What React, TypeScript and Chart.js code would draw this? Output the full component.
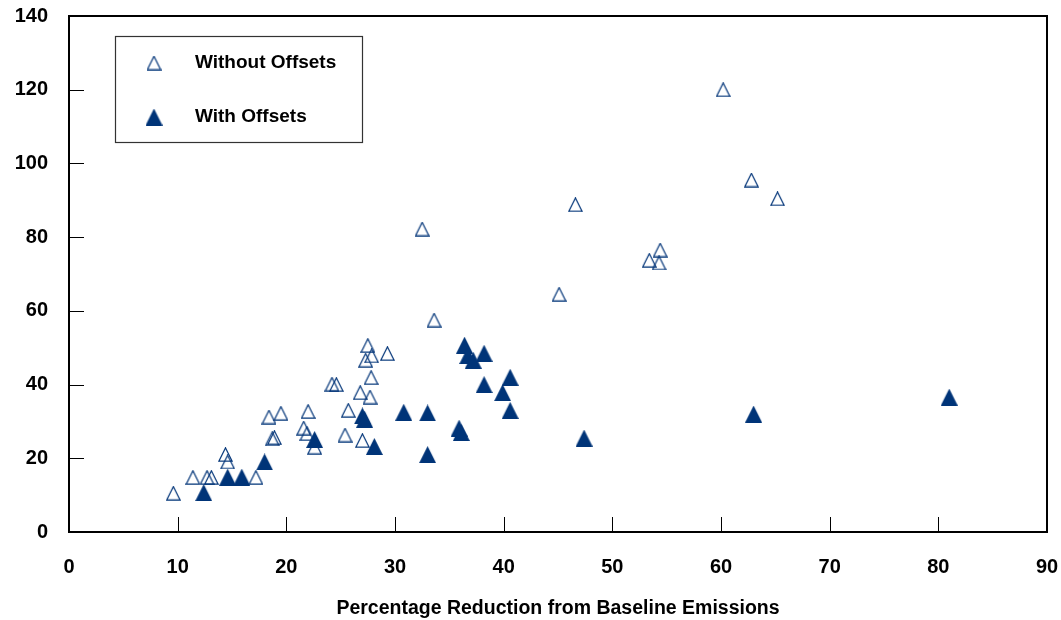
import React, { useEffect, useRef } from 'react';
import { Chart, registerables } from 'chart.js';

Chart.register(...registerables);

const withoutX = [9.6, 11.4, 12.7, 13.1, 14.4, 14.6, 17.2, 18.4, 18.7, 18.9, 19.5, 21.6, 21.9, 22.0, 22.6, 24.2, 24.6, 25.4, 25.7, 26.8, 27.0, 27.3, 27.5, 27.7, 27.8, 27.85, 29.3, 32.5, 33.6, 45.1, 46.6, 53.4, 54.3, 54.4, 60.2, 62.8, 65.2];
const withoutY = [10.5, 14.8, 14.8, 14.8, 21.0, 19.0, 14.8, 31.2, 25.3, 25.6, 32.2, 28.2, 26.7, 32.7, 23.0, 40.1, 40.0, 26.3, 33.0, 37.8, 24.8, 46.6, 50.6, 36.6, 41.9, 47.8, 48.4, 82.2, 57.5, 64.5, 88.8, 73.7, 73.0, 76.5, 120.0, 95.5, 90.4];

const withX = [12.4, 14.6, 15.9, 18.0, 22.6, 27.0, 27.2, 28.1, 30.8, 33.0, 33.0, 35.9, 36.1, 36.4, 36.7, 37.2, 38.2, 38.2, 39.9, 40.6, 40.6, 47.4, 63.0, 81.0];
const withY = [10.7, 14.9, 14.9, 19.0, 25.1, 31.5, 30.6, 23.2, 32.5, 32.3, 21.0, 28.2, 27.0, 50.7, 47.9, 46.6, 48.5, 40.0, 37.8, 42.0, 33.0, 25.5, 32.0, 36.6];

const xTickValues = [0, 10, 20, 30, 40, 50, 60, 70, 80, 90];
const yTickValues = [0, 20, 40, 60, 80, 100, 120, 140];
const legendLabels = ['Without Offsets', 'With Offsets'];
const xAxisTitle = 'Percentage Reduction from Baseline Emissions';

const NAVY = '#003478';
const FONT = '"Liberation Sans", Arial, sans-serif';

function makeHollow(): HTMLCanvasElement {
  const c = document.createElement('canvas');
  c.width = 15; c.height = 15;
  const ctx = c.getContext('2d')!;
  ctx.strokeStyle = NAVY;
  ctx.lineWidth = 1.2;
  ctx.beginPath();
  ctx.moveTo(7.5, 0.8);
  ctx.lineTo(0.8, 14.2);
  ctx.lineTo(14.2, 14.2);
  ctx.closePath();
  ctx.stroke();
  return c;
}

function makeFilled(): HTMLCanvasElement {
  const c = document.createElement('canvas');
  c.width = 17; c.height = 17;
  const ctx = c.getContext('2d')!;
  ctx.fillStyle = NAVY;
  ctx.beginPath();
  ctx.moveTo(8.5, 0);
  ctx.lineTo(0, 17);
  ctx.lineTo(17, 17);
  ctx.closePath();
  ctx.fill();
  return c;
}

export default function App() {
  const ref = useRef<HTMLCanvasElement | null>(null);
  useEffect(() => {
    if (!ref.current) return;
    const hollow = makeHollow();
    const filled = makeFilled();

    const framePlugin = {
      id: 'frame',
      afterDraw(chart: any) {
        const { ctx, chartArea } = chart;
        const xs = chart.scales.x;
        const ys = chart.scales.y;
        ctx.save();
        ctx.strokeStyle = '#000';
        ctx.lineWidth = 1;
        ctx.beginPath();
        xTickValues.forEach((v) => {
          if (v === 0 || v === 90) return;
          const px = Math.round(xs.getPixelForValue(v)) + 0.5;
          ctx.moveTo(px, chartArea.bottom);
          ctx.lineTo(px, chartArea.bottom - 15);
        });
        yTickValues.forEach((v) => {
          if (v === 0 || v === 140) return;
          const py = Math.round(ys.getPixelForValue(v)) + 0.5;
          ctx.moveTo(chartArea.left, py);
          ctx.lineTo(chartArea.left + 15, py);
        });
        ctx.stroke();
        ctx.lineWidth = 2;
        ctx.strokeRect(chartArea.left, chartArea.top, chartArea.right - chartArea.left, chartArea.bottom - chartArea.top);
        // legend
        const lx = chartArea.left + 46;
        const ly = chartArea.top + 20;
        ctx.lineWidth = 1.2;
        ctx.strokeStyle = '#333';
        ctx.strokeRect(lx + 0.5, ly + 0.5, 247, 106);
        ctx.drawImage(hollow, lx + 39 - 7.5, ly + 27 - 7.5);
        ctx.drawImage(filled, lx + 39 - 8.5, ly + 81 - 8.5);
        ctx.fillStyle = '#000';
        ctx.font = `bold 19px ${FONT}`;
        ctx.textBaseline = 'middle';
        ctx.textAlign = 'left';
        ctx.fillText(legendLabels[0], lx + 80, ly + 27);
        ctx.fillText(legendLabels[1], lx + 80, ly + 81);
        ctx.restore();
      },
    };

    const chart = new Chart(ref.current, {
      type: 'scatter',
      data: {
        datasets: [
          {
            label: legendLabels[1],
            data: withX.map((x, i) => ({ x, y: withY[i] })),
            pointStyle: filled as any,
            order: 0,
          },
          {
            label: legendLabels[0],
            data: withoutX.map((x, i) => ({ x, y: withoutY[i] })),
            pointStyle: hollow as any,
            order: 1,
          },
        ],
      },
      options: {
        animation: false,
        responsive: true,
        maintainAspectRatio: false,
        layout: { padding: { top: 16, right: 14, left: 0, bottom: 0 } },
        plugins: { legend: { display: false }, tooltip: { enabled: false } },
        scales: {
          x: {
            type: 'linear',
            min: 0,
            max: 90,
            afterFit: (s: any) => { s.height = 88; s.paddingLeft = 0; s.paddingRight = 0; },
            afterBuildTicks: (s: any) => { s.ticks = xTickValues.map((v) => ({ value: v })); },
            ticks: { color: '#000', font: { family: FONT, size: 20, weight: 'bold' }, padding: 23, maxRotation: 0 },
            grid: { display: false, drawTicks: false },
            border: { display: false },
            title: { display: true, text: xAxisTitle, color: '#000', font: { family: FONT, size: 19.5, weight: 'bold' }, padding: { top: 0, bottom: 0 } },
          },
          y: {
            type: 'linear',
            min: 0,
            max: 140,
            afterFit: (s: any) => { s.width = 69; s.paddingTop = 0; s.paddingBottom = 0; },
            afterBuildTicks: (s: any) => { s.ticks = yTickValues.map((v) => ({ value: v })); },
            ticks: { color: '#000', font: { family: FONT, size: 20, weight: 'bold' }, padding: 21 },
            grid: { display: false, drawTicks: false },
            border: { display: false },
          },
        },
      },
      plugins: [framePlugin],
    });
    return () => chart.destroy();
  }, []);

  return (
    <div style={{ position: 'fixed', left: 0, top: 0, width: 1061, height: 620, background: '#fff' }}>
      <canvas ref={ref} />
    </div>
  );
}
